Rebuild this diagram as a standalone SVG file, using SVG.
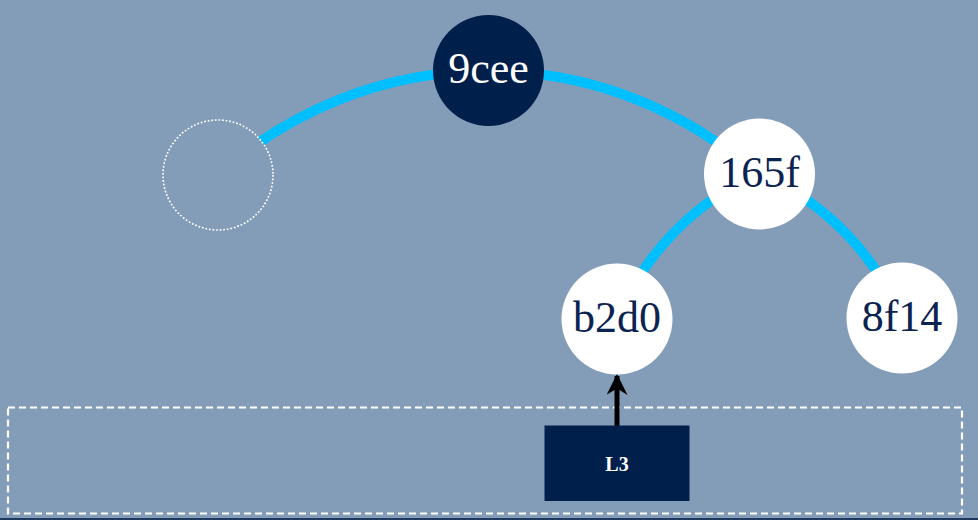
<svg xmlns="http://www.w3.org/2000/svg" width="978" height="520" viewBox="0 0 978 520">
<defs>
<style>
.edge{fill:none;stroke:#00bfff;stroke-width:10}
.node{fill:#ffffff}
.root{fill:#001f4b}
.ghost{fill:#839cb7;stroke:#ffffff;stroke-width:1.6;stroke-dasharray:1.8 1.8}
.lbl{font-family:"Liberation Serif","DejaVu Serif",serif;font-size:44px;text-anchor:middle;fill:#0b2350}
.lblw{fill:#ffffff}
.lvl{fill:none;stroke:#ffffff;stroke-width:2.2;stroke-dasharray:7 4}
.box{fill:#001f4b}
.boxlbl{font-family:"Liberation Serif","DejaVu Serif",serif;font-size:20px;font-weight:bold;text-anchor:middle;fill:#ffffff}
</style>
<marker id="arr" viewBox="0 0 10 10" refX="9" refY="5" markerWidth="4.2" markerHeight="4.2" orient="auto" markerUnits="strokeWidth">
<path d="M0,0 L10,5 L0,10 L3,5 Z" fill="#000000"/>
</marker>
</defs>
<rect x="0" y="0" width="978" height="520" fill="#839cb7"/>
<rect x="0" y="518" width="978" height="2" fill="#1f3a5e"/>
<rect class="lvl" x="8" y="407.5" width="954" height="106"/>
<g id="connectors">
<path class="edge" d="M218,175 A402.5,402.5 0 0 1 758,175"/>
<path class="edge" d="M759,173 A276,276 0 0 0 617,319"/>
<path class="edge" d="M759,173 A276,276 0 0 1 902,318"/>
<line x1="617" y1="426" x2="617" y2="376" stroke="#000000" stroke-width="5" marker-end="url(#arr)"/>
</g>
<g id="node-empty"><circle class="ghost" cx="218" cy="175" r="55"/></g>
<g id="node-9cee"><circle class="root" cx="488.5" cy="70.5" r="55.5"/><text class="lbl lblw" x="488.5" y="83">9cee</text></g>
<g id="node-165f"><circle class="node" cx="759.5" cy="174" r="55.5"/><text class="lbl" x="759.5" y="187">165f</text></g>
<g id="node-b2d0"><circle class="node" cx="617" cy="319" r="55.5"/><text class="lbl" x="617" y="332">b2d0</text></g>
<g id="node-8f14"><circle class="node" cx="902" cy="318" r="55.5"/><text class="lbl" x="902" y="331">8f14</text></g>
<g id="node-L3"><rect class="box" x="544.5" y="425.5" width="145" height="75.5"/><text class="boxlbl" x="617" y="471">L3</text></g>
</svg>
